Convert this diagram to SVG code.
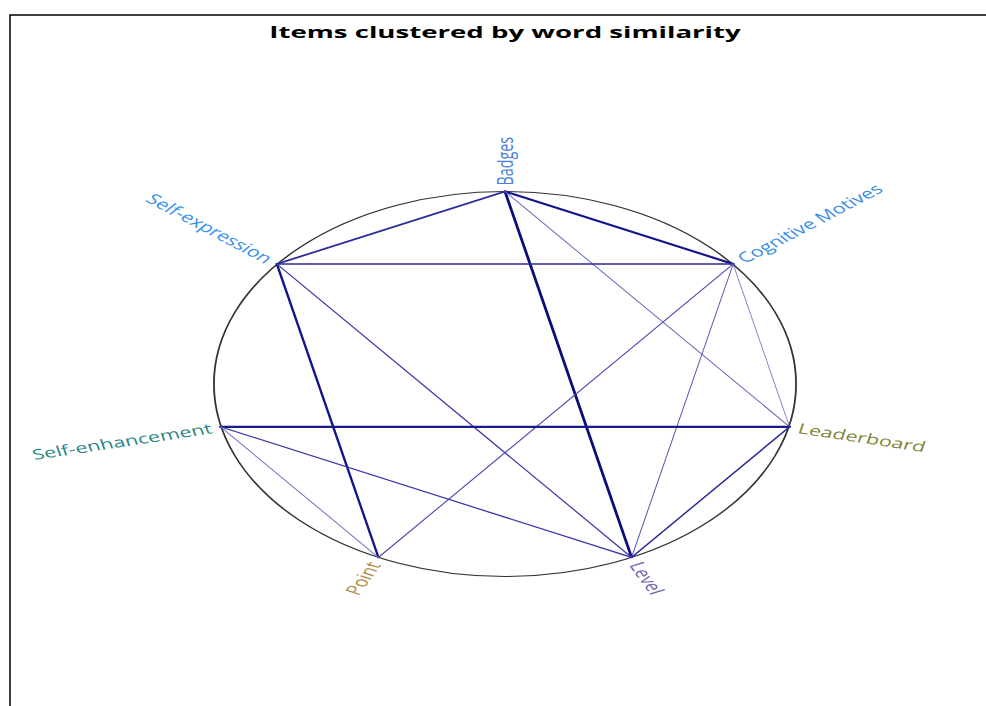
<svg xmlns="http://www.w3.org/2000/svg" width="986" height="706" viewBox="0 0 986 706">
<style>
.lbl{font-family:"Open Sans","Noto Sans","DejaVu Sans",sans-serif;font-size:14.3px}
.title{font-family:"Open Sans","Noto Sans","DejaVu Sans",sans-serif;font-size:16px;font-weight:bold;fill:#000}
.e{fill:none;stroke:#1a1a8c;stroke-linecap:round}
</style>
<rect width="986" height="706" fill="#fff"/>
<path d="M10 706 V15 H986" fill="none" stroke="#000" stroke-width="1.5"/>
<g transform="translate(505 0) scale(1.516 1)">
  <text class="title" x="0" y="38" text-anchor="middle" textLength="311" lengthAdjust="spacingAndGlyphs">Items clustered by word similarity</text>
  <ellipse cx="0" cy="384" rx="192" ry="192.5" fill="none" stroke="#333" stroke-width="1.2"/>
  <g id="connectors">
    <line class="e" x1="0" y1="191.5" x2="83.5" y2="557.4" stroke-width="1.9" style="stroke:#0d0d7a"/>
    <line class="e" x1="0" y1="191.5" x2="150.5" y2="264" stroke-width="2" style="stroke:#14148a"/>
    <line class="e" x1="0" y1="191.5" x2="-150.5" y2="264" stroke-width="1.7" style="stroke:#2a2a9a"/>
    <line class="e" x1="0" y1="191.5" x2="187.7" y2="426.8" stroke-width="0.8" style="stroke:#6666b8"/>
    <line class="e" x1="-150.5" y1="264" x2="150.5" y2="264" stroke-width="1.6" style="stroke:#2a2a9a"/>
    <line class="e" x1="-150.5" y1="264" x2="-83.5" y2="557.4" stroke-width="1.6" style="stroke:#14148a"/>
    <line class="e" x1="-150.5" y1="264" x2="83.5" y2="557.4" stroke-width="1" style="stroke:#3a3aa6"/>
    <line class="e" x1="150.5" y1="264" x2="-83.5" y2="557.4" stroke-width="0.9" style="stroke:#4a4ab0"/>
    <line class="e" x1="150.5" y1="264" x2="83.5" y2="557.4" stroke-width="0.7" style="stroke:#5a5ab6"/>
    <line class="e" x1="150.5" y1="264" x2="187.7" y2="426.8" stroke-width="0.6" style="stroke:#5a5ab6"/>
    <line class="e" x1="-187.7" y1="426.8" x2="187.7" y2="426.8" stroke-width="2.2" style="stroke:#1a1a8c"/>
    <line class="e" x1="-187.7" y1="426.8" x2="83.5" y2="557.4" stroke-width="1.2" style="stroke:#3a3aa6"/>
    <line class="e" x1="-187.7" y1="426.8" x2="-83.5" y2="557.4" stroke-width="0.8" style="stroke:#7070c0"/>
    <line class="e" x1="187.7" y1="426.8" x2="83.5" y2="557.4" stroke-width="1.2" style="stroke:#2a2a9a"/>
  </g>
  <g id="n-badges"><text class="lbl" fill="#4d82d6" transform="translate(0 185.5) rotate(-90)" dy=".35em" text-anchor="start">Badges</text></g>
  <g id="n-cognitive"><text class="lbl" fill="#3a8de2" transform="translate(155.2 260.2) rotate(-38.57)" dy=".35em" text-anchor="start">Cognitive Motives</text></g>
  <g id="n-leaderboard"><text class="lbl" fill="#85853a" transform="translate(193.5 428.2) rotate(12.86)" dy=".35em" text-anchor="start">Leaderboard</text></g>
  <g id="n-level"><text class="lbl" fill="#6c6cac" transform="translate(86.1 562.8) rotate(64.29)" dy=".35em" text-anchor="start">Level</text></g>
  <g id="n-point"><text class="lbl" fill="#b38d48" transform="translate(-86.1 562.8) rotate(-64.29)" dy=".35em" text-anchor="end">Point</text></g>
  <g id="n-selfenh"><text class="lbl" fill="#2b8883" transform="translate(-193.5 428.2) rotate(-12.86)" dy=".35em" text-anchor="end">Self-enhancement</text></g>
  <g id="n-selfexp"><text class="lbl" fill="#3490ec" transform="translate(-155.2 260.2) rotate(38.57)" dy=".35em" text-anchor="end">Self-expression</text></g>
</g>
</svg>
